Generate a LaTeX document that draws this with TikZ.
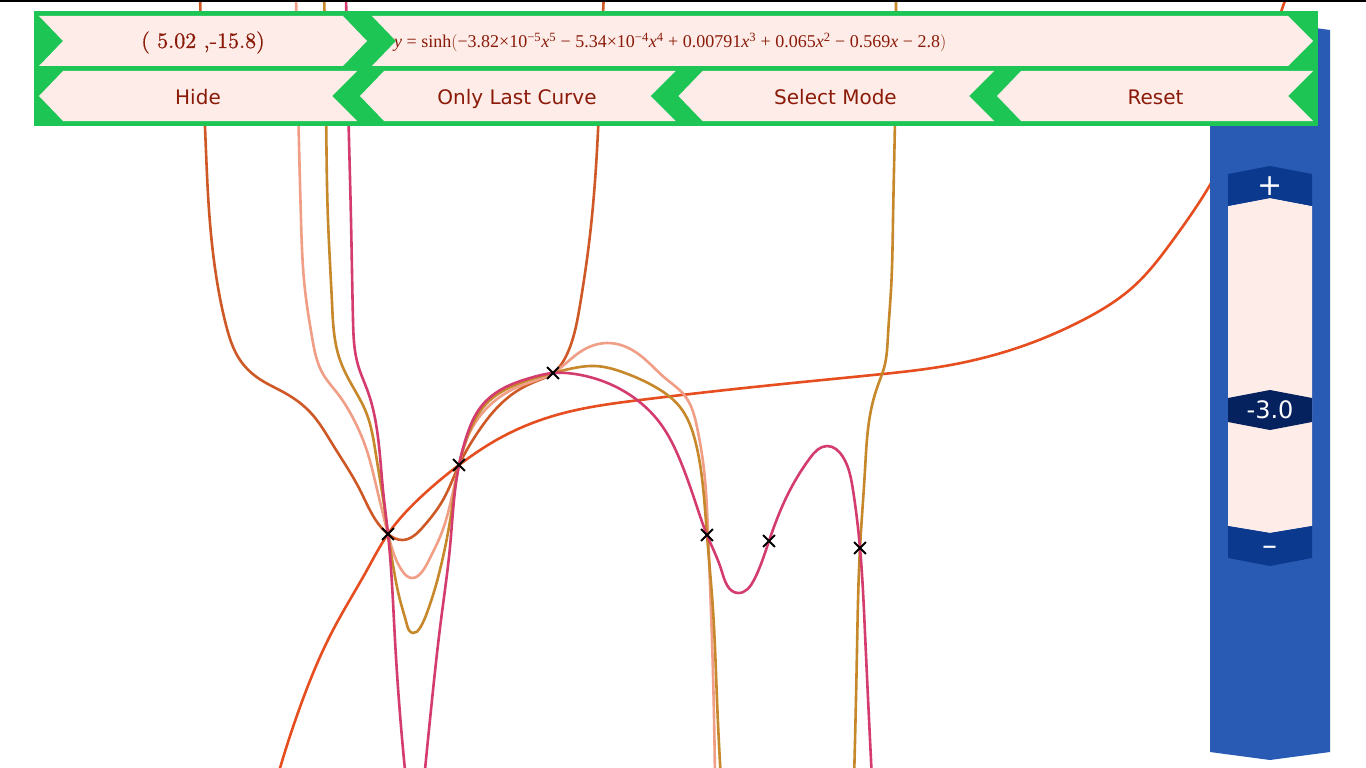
\documentclass[tikz,border=0pt]{standalone}
\usepackage{fontspec}
\newfontfamily\uifont{DejaVu Sans}
\newfontfamily\formulafont{Liberation Serif}
\newfontfamily\pointfont[Extension=.otf,FakeBold=0.8]{lmroman10-regular}
\usetikzlibrary{shapes.misc,hobby}
\definecolor{barGreen}{RGB}{29,197,84}
\definecolor{tabPink}{RGB}{253,236,232}
\definecolor{labelRed}{RGB}{139,26,8}
\definecolor{panelBlue}{RGB}{41,91,181}
\definecolor{knobBlue}{RGB}{11,57,141}
\definecolor{valueBlue}{RGB}{5,33,94}
\definecolor{curveRed}{RGB}{230,78,32}
\definecolor{curveRust}{RGB}{207,89,38}
\definecolor{curveSalmon}{RGB}{240,158,134}
\definecolor{curveGold}{RGB}{198,136,42}
\definecolor{curvePink}{RGB}{212,60,110}

\begin{document}
\begin{tikzpicture}[x=1pt,y=-1pt,
		curve/.style={line width=2.6pt,use Hobby shortcut},
		xmark/.style={cross out,draw=black,line width=1.8pt,minimum size=10pt,inner sep=0pt},
		tab/.style={fill=tabPink},
		tablabel/.style={text=labelRed,font=\uifont\fontsize{20}{24}\selectfont,anchor=base},
		knob/.style={fill=knobBlue},
		knoblabel/.style={text=white,font=\uifont\fontsize{24}{28}\selectfont}]

		\useasboundingbox (0,0) rectangle (1366,768);
		\fill[white] (0,0) rectangle (1366,768);

		% curves
		\draw[curve,curveRed] (278,775) .. (300,707) .. (333,630) .. (367,570) .. (388,534) .. (423,495) .. (459,465) .. (500,438) .. (560,414) .. (640,400) .. (773,385) .. (873,375) .. (945,366) .. (1017,348) .. (1083,320) .. (1133,287) .. (1173,240) .. (1210,185) .. (1281,12) .. (1288,-8);
		\draw[curve,curveRust] (200,-8) .. (202,60) .. (205,127) .. (209,210) .. (216,275) .. (226,325) .. (240,360) .. (258,378) .. (285,393) .. (310,412) .. (333,445) .. (360,490) .. (388,534) .. (402,540) .. (423,527) .. (443,500) .. (459,465) .. (478,432) .. (505,400) .. (532,383) .. (553,373) .. (568,352) .. (580,305) .. (590,235) .. (597,150) .. (601,60) .. (604,-8);
		\draw[curve,curveSalmon] (296,-8) .. (298,100) .. (301,220) .. (305,290) .. (312,337) .. (323,374) .. (338,394) .. (353,418) .. (366,448) .. (376,485) .. (388,534) .. (395,557) .. (403,572) .. (412,578) .. (421,573) .. (430,558) .. (440,537) .. (450,505) .. (459,465) .. (470,432) .. (490,405) .. (520,386) .. (553,373) .. (580,352) .. (607,343) .. (637,353) .. (665,378) .. (685,396) .. (697,427) .. (704,470) .. (708,533) .. (712,640) .. (715,780);
		\draw[curve,curveGold] (324,-8) .. (326,100) .. (328,220) .. (332,303) .. (340,360) .. (353,387) .. (366,412) .. (376,455) .. (384,505) .. (388,534) .. (393,565) .. (400,600) .. (407,625) .. (413,633) .. (420,628) .. (428,610) .. (436,585) .. (443,557) .. (451,515) .. (459,465) .. (470,430) .. (487,403) .. (513,386) .. (553,373) .. (580,367) .. (595,366) .. (625,373) .. (657,388) .. (680,407) .. (695,440) .. (703,487) .. (707,535) .. (713,610) .. (717,700) .. (721,780);
		\draw[curve,curveGold] (854,780) .. (857,650) .. (860,548) .. (865,470) .. (871,410) .. (878,385) .. (884,368) .. (888,335) .. (891,290) .. (893,220) .. (895,120) .. (896,-8);
		\draw[curve,curvePink] (346,-8) .. (348,100) .. (351,220) .. (353,320) .. (358,365) .. (368,392) .. (377,430) .. (383,490) .. (388,534) .. (395,640) .. (406,780);
		\draw[curve,curvePink] (424,780) .. (432,700) .. (441,620) .. (450,547) .. (459,465) .. (467,435) .. (480,408) .. (502,389) .. (530,378) .. (553,373) .. (575,374) .. (605,382) .. (633,397) .. (660,423) .. (680,460) .. (697,507) .. (707,535) .. (722,572) .. (738,593) .. (754,580) .. (769,541) .. (790,490) .. (810,458) .. (827,446) .. (843,457) .. (853,490) .. (860,548) .. (865,633) .. (872,780);

		% marked points
		\node[xmark] (p1) at (388,534) {};
		\node[xmark] (p2) at (459,465) {};
		\node[xmark] (p3) at (553,373) {};
		\node[xmark] (p4) at (707,535) {};
		\node[xmark] (p5) at (769,541) {};
		\node[xmark] (p6) at (860,548) {};

		% slider
		\fill[panelBlue] (1210,30) -- (1270,22) -- (1330,30) -- (1330,752) -- (1270,760) -- (1210,752) -- cycle;
		\fill[tabPink] (1228,206) -- (1270,198) -- (1312,206) -- (1312,526) -- (1270,533) -- (1228,526) -- cycle;
		\fill[knob] (1228,174) -- (1270,166) -- (1312,174) -- (1312,206) -- (1270,198) -- (1228,206) -- cycle;
		\fill[knob] (1228,526) -- (1270,533) -- (1312,526) -- (1312,558) -- (1270,566) -- (1228,558) -- cycle;
		\fill[valueBlue] (1228,398) -- (1270,390) -- (1312,398) -- (1312,422) -- (1270,430) -- (1228,422) -- cycle;
		\node[knoblabel,font=\uifont\fontsize{30}{32}\selectfont] (plus) at (1270,186) {+};
		\node[knoblabel] (value) at (1270,410) {-3.0};
		\node[knoblabel,font=\uifont\fontsize{30}{32}\selectfont] (minus) at (1270,551) {–};

		% toolbar
		\fill[barGreen] (34,11) rectangle (1318,126);
		\fill[tab] (39,16) -- (343,16) -- (367,41) -- (343,66) -- (39,66) -- (63,41) -- cycle;
		\fill[tab] (372,16) -- (1288,16) -- (1313,41) -- (1288,66) -- (372,66) -- (396,41) -- cycle;
		\fill[tab] (39,96) -- (63,71) -- (357,71) -- (332,96) -- (357,121) -- (63,121) -- cycle;
		\fill[tab] (360,96) -- (384,71) -- (675.5,71) -- (650.5,96) -- (675.5,121) -- (384,121) -- cycle;
		\fill[tab] (678.5,96) -- (702.5,71) -- (994,71) -- (969,96) -- (994,121) -- (702.5,121) -- cycle;
		\fill[tab] (997,96) -- (1021,71) -- (1313,71) -- (1288,96) -- (1313,121) -- (1021,121) -- cycle;

		\node[text=labelRed,font=\pointfont\fontsize{22}{25}\selectfont,anchor=base] (point) at (203,48) {( 5.02 ,-15.8)};
		\node[text=labelRed,anchor=base west,inner sep=0pt] (formula) at (394,48) {\resizebox{552pt}{!}{\formulafont\fontsize{18}{20}\selectfont\textit{y} = sinh$\bigl($−3.82×10\textsuperscript{−5}\textit{x}\textsuperscript{5} − 5.34×10\textsuperscript{−4}\textit{x}\textsuperscript{4} + 0.00791\textit{x}\textsuperscript{3} + 0.065\textit{x}\textsuperscript{2} − 0.569\textit{x} − 2.8$\bigr)$}};
		\node[tablabel] (hide) at (198,104.5) {Hide};
		\node[tablabel] (lastcurve) at (517,104.5) {Only Last Curve};
		\node[tablabel] (selectmode) at (835.5,104.5) {Select Mode};
		\node[tablabel] (reset) at (1155.5,104.5) {Reset};

		\draw[line width=1.8pt] (0,0.9) -- (1366,0.9);

	\end{tikzpicture}
\end{document}
